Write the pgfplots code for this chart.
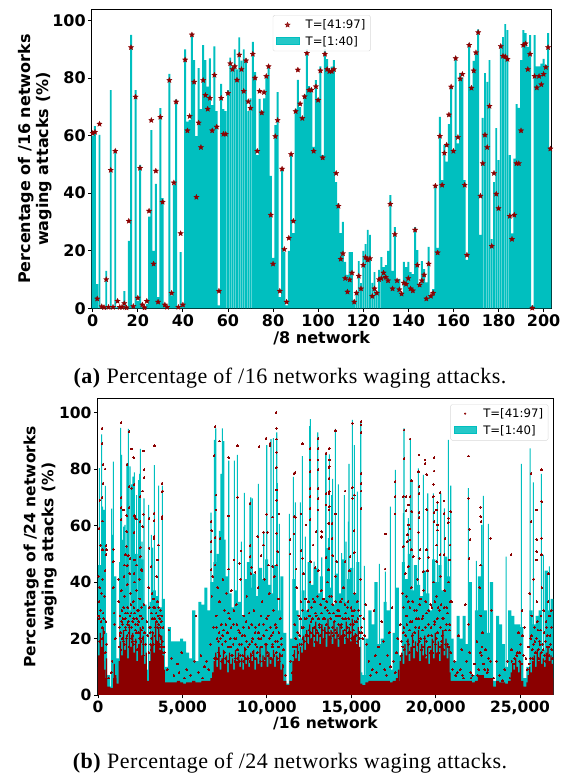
\documentclass[border=0pt]{standalone}
\usepackage{fontspec}
\usepackage{pgfplots}
\usepackage{pgfplotstable}
\pgfplotsset{compat=1.18}
\setmainfont{Liberation Serif}
\newfontfamily\djv{DejaVu Sans}
\definecolor{cbar}{HTML}{00BFBF}
\definecolor{dred}{HTML}{8B0000}
\pgfdeclareplotmark{fstar}{%
  \pgfpathmoveto{\pgfpointpolar{90}{\pgfplotmarksize}}%
  \pgfpathlineto{\pgfpointpolar{126}{0.45\pgfplotmarksize}}%
  \pgfpathlineto{\pgfpointpolar{162}{\pgfplotmarksize}}%
  \pgfpathlineto{\pgfpointpolar{198}{0.45\pgfplotmarksize}}%
  \pgfpathlineto{\pgfpointpolar{234}{\pgfplotmarksize}}%
  \pgfpathlineto{\pgfpointpolar{270}{0.45\pgfplotmarksize}}%
  \pgfpathlineto{\pgfpointpolar{306}{\pgfplotmarksize}}%
  \pgfpathlineto{\pgfpointpolar{342}{0.45\pgfplotmarksize}}%
  \pgfpathlineto{\pgfpointpolar{18}{\pgfplotmarksize}}%
  \pgfpathlineto{\pgfpointpolar{54}{0.45\pgfplotmarksize}}%
  \pgfpathclose\pgfusepathqfillstroke}
\pgfplotstableread{
i b s
0 60 60.8
1 63.3 61.2
2 8.4 3.3
3 60.2 64
4 0.5 0.6
5 0.3 0.3
6 13 10
7 0.2 0.4
8 75.8 48
9 0.2 0.4
10 54.6 54.6
11 0.5 2.5
12 0.2 0.4
13 0.2 0.4
14 6 1.7
15 0.1 0.2
16 23.4 30.3
17 95 90.6
18 0.2 0.7
19 75.8 73.4
20 2.6 3.6
21 49.8 48.7
22 0.5 1.2
23 0.2 0.2
24 1.5 2.5
25 31.8 33.8
26 61.9 65.3
27 19.9 15.4
28 43.2 47.7
29 3.9 2.2
30 69.5 66.4
31 38.3 36.9
32 0.8 1.2
33 0.3 0.4
34 81.4 79.2
35 4.5 5.3
36 42.8 43.6
37 72.6 71.7
38 0.3 0.4
39 19.5 26
40 0.8 1.2
41 89.9 86.3
42 64.8 61.7
43 65.4 66.7
44 95.5 95
45 86.2 78.6
46 59.8 38.6
47 83.4 64.4
48 69.2 55.9
49 91.4 79.2
50 86.2 74
51 77 69.2
52 86.8 73
53 70.6 61.7
54 91 81
55 68.5 63
56 1 6
57 77.9 73
58 69.2 60.5
59 68.5 60.5
60 75.8 74.7
61 87.1 85
62 84 83
63 89.9 84
64 83 79.3
65 94.1 88
66 86 83
67 89.9 75.4
68 86.8 86
69 68.5 71.8
70 72.9 69.5
71 92.5 88.3
72 82 80
73 53.2 54.6
74 72.7 75.4
75 68.5 67.9
76 72.9 75
77 80.2 80.6
78 83.7 84
79 46 32.4
80 17.5 15.4
81 63.6 59.7
82 75.1 65.3
83 3.9 6
84 48.7 48.4
85 19.7 20.5
86 1 2.2
87 19.9 24.4
88 53.2 53.5
89 26.1 30.3
90 69.3 68.4
91 79.3 82.8
92 69.9 71
93 66.5 66
94 74.2 73.5
95 89.9 88.6
96 77.2 75.8
97 76.4 75.8
98 56.1 54.6
99 79.2 77
100 72.9 72.3
101 84 82.5
102 53.2 52.3
103 89.9 88.3
104 86.5 83
105 82.3 82.3
106 83.9 82.3
107 86.2 83
108 43.8 46.9
109 36.4 35.5
110 26.1 17.1
111 30 19
112 16.1 10.4
113 11.6 5.7
114 19.5 9.9
115 19.5 12.3
116 2.9 2.2
117 5.8 5.3
118 16.4 11.2
119 8.7 6.8
120 19.9 15
121 22.3 17.7
122 27.2 16.8
123 25.5 17.3
124 8.8 4.2
125 12.6 6.8
126 5.8 5.3
127 13.3 10
128 17.8 10.4
129 14.3 12.3
130 15 10.8
131 19.9 9.6
132 39.3 36.2
133 13 6.8
134 28.2 25.7
135 10 9.6
136 10.2 6.5
137 5.2 5
138 16.1 8.8
139 14.3 8.4
140 16.1 10.4
141 12.6 6.8
142 11.9 6.1
143 28.2 27.2
144 20.2 15
145 8.4 8.1
146 16.4 9.6
147 13.6 11.6
148 9 3.3
149 21.3 15.4
150 4.5 4.2
151 6.7 5.3
152 42.5 42.5
153 21 19.3
154 66.5 59.8
155 44.5 42.8
156 56.7 53.9
157 50.9 56.7
158 64 67.2
159 77.2 76.9
160 55 54.6
161 87.4 86.8
162 57.3 59.4
163 81.8 79.7
164 80.2 81.3
165 44.5 42.8
166 16.8 18.5
167 92 91.4
168 77 76.5
169 85.9 82.5
170 89.1 88.8
171 96.9 95.8
172 25.5 39
173 66.1 50.3
174 81.7 60.2
175 78.6 55.9
176 86.2 70.2
177 24 21.6
178 43.8 46.9
179 62.6 39.7
180 51.5 34.7
181 91.5 91
182 94.2 87.6
183 98.7 87.4
184 96.6 86.5
185 53.2 32
186 26 24
187 52 32.4
188 70.9 50.3
189 69.6 50.3
190 86.2 61.7
191 96.6 91.4
192 95.6 91.9
193 90.8 83
194 94.9 88.3
195 0.9 0.1
196 94.9 80.6
197 84 76.6
198 84 80.6
199 85 77.7
200 86.6 81.3
201 84.5 83.7
202 95.6 90.6
203 55 55.4
}\topdata
\pgfplotstableread{
d base floor
90 46 10
270 40 12
450 22 6
630 7 3
810 3 2.5
990 42 6
1170 13 4
1350 47 8
1530 38 10
1710 52 9
1890 30 11
2070 43 10
2250 50 9
2430 30 6
2610 48 10
2790 32 8
2970 9 5
3150 33 9
3330 37 12
3510 35 12
3690 31 11
3870 34 9
4050 10 4.5
4230 24 4.5
4410 19 4.5
4590 19 4.5
4770 19 5
4950 20 4.5
5130 19 4
5310 15 4.5
5490 13 4.5
5670 30 5
5850 12 4.5
6030 33 4.5
6210 32 5
6390 38 5
6570 30 5
6750 40 6
6930 47 6
7110 50 7
7290 58 6
7470 55 6
7650 42 5
7830 36 7
8010 31 6
8190 37 6
8370 33 7
8550 28 6
8730 41 7
8910 47 6
9090 38 6
9270 43 7
9450 35 6
9630 45 7
9810 41 6
9990 48 6
10170 39 7
10350 36 6
10530 46 7
10710 30 6
10890 42 5
11070 22 5
11250 4 3.5
11430 20 5
11610 41 8
11790 30 8
11970 20 8
12150 37 10
12330 30 9
12510 47 12
12690 39 13
12870 45 12
13050 36 13
13230 42 11
13410 34 13
13590 46 14
13770 38 12
13950 32 13
14130 43 14
14310 36 12
14490 48 13
14670 33 14
14850 41 12
15030 45 13
15210 36 12
15390 47 11
15570 8 4
15750 7 3.5
15930 20 4.5
16110 30 5
16290 25 5
16470 40 5
16650 18 5
16830 20 5
17010 33 5
17190 30 5
17370 9 4.5
17550 22 5
17730 38 6
17910 14 5
18090 47 8
18270 41 9
18450 50 8
18630 37 9
18810 46 8
18990 39 9
19170 35 8
19350 44 9
19530 36 8
19710 30 8
19890 48 8
20070 40 9
20250 46 8
20430 37 9
20610 49 8
20790 42 8
20970 20 5
21150 12 5
21330 28 5
21510 20 5
21690 28 5
21870 18 5
22050 40 5
22230 7 4.5
22410 30 5
22590 42 7
22770 46 7
22950 30 6
23130 22 6
23310 40 6
23490 5 3
23670 28 5
23850 25 4.5
24030 18 4.5
24210 10 4
24390 30 5
24570 28 6
24750 25 6
24930 25 6
25110 24 5
25290 6 3
25470 10 4.5
25650 30 5
25830 25 6
26010 28 7
26190 30 7
26370 16 6
26550 44 7
26730 30 7
26910 34 6
}\basedata
\pgfplotstableread{
d v
45 14
135 22
225 17
315 24
405 9
500 13
960 11
1050 7
1260 12
1330 19
1420 14
1510 23
1600 16
1690 20
1780 13
1870 25
1960 17
2050 22
2140 15
2230 20
2320 12
2410 18
2500 24
2590 14
2680 21
2770 11
2860 15
3060 12
3150 18
3240 22
3330 15
3420 26
3510 19
3600 24
3690 16
3780 21
3870 14
6800 8
6890 12
6980 15
7070 10
7160 17
7250 9
7340 13
7430 16
7520 11
7610 14
7700 8
7790 15
7880 11
7970 13
8060 9
8150 16
8240 12
8330 15
8420 10
8510 13
8600 9
8690 17
8780 11
8870 14
8960 10
9050 15
9140 12
9230 16
9320 9
9410 13
9500 11
9590 17
9680 10
9770 14
9860 12
9950 18
10040 10
10130 15
10220 11
10310 13
10400 16
10490 10
10580 14
10670 12
10760 15
10850 9
10940 11
11550 12
11640 16
11730 13
11820 18
11910 12
12000 17
12090 15
12180 21
12270 16
12360 23
12450 18
12540 25
12630 20
12720 24
12810 17
12900 26
12990 19
13080 22
13170 18
13260 25
13350 20
13440 24
13530 17
13620 27
13710 21
13800 23
13890 18
13980 26
14070 20
14160 24
14250 17
14340 25
14430 21
14520 23
14610 18
14700 26
14790 20
14880 24
14970 19
15060 27
15150 21
15240 22
15330 18
15420 24
15510 17
17800 9
17900 12
18000 15
18090 11
18180 18
18270 14
18360 20
18450 12
18540 17
18630 22
18720 13
18810 19
18900 15
18990 23
19080 12
19170 18
19260 14
19350 21
19440 13
19530 17
19620 11
19710 16
19800 20
19890 13
19980 22
20070 15
20160 19
20250 12
20340 18
20430 23
20520 14
20610 20
20700 13
20790 17
24480 8
24570 11
24660 9
24750 13
24840 10
24930 8
25020 12
25480 7
25570 10
25660 8
25750 12
25840 14
25930 10
26020 16
26110 12
26200 15
26290 11
26380 13
26470 10
26560 15
26650 17
26740 12
26830 14
26920 11
}\middata
\pgfplotstableread{
d v
79 80.3
217 92.3
277 66.7
356 65.5
435 74
810 66
889 56.7
909 82.6
1343 94.6
1402 85
1462 54.9
1521 59.6
1600 60.2
1718 82
1797 94.2
1896 80.9
1995 74.6
2074 77.3
2153 78.8
2291 70.8
2410 76.1
2469 78.3
2508 87.1
2607 54.3
2726 69.6
3002 67.3
3160 56.7
3239 52.2
3338 81.4
3575 47.2
3595 74.1
3812 74.1
6695 64.6
6893 90.3
6972 94.4
7189 58.1
7288 78.3
7367 94.4
7446 89.9
7742 83
8078 83
8256 85
8493 54.3
8670 71.6
9006 68.2
9046 70
9144 69.6
9500 74.7
9816 57.9
9994 88.5
10250 90.6
10389 90.9
10586 93
10626 75
10744 60.6
11337 64.1
11574 77.2
11692 68.2
11988 68.2
12107 84.6
12285 56.1
12541 95.2
12581 97.7
12798 47.2
13015 93
13252 48.7
13509 85.6
13588 52
13706 85.2
13250 48.2
13487 85.2
13645 55.5
13704 67
13842 70.8
13902 76.5
14060 94.2
14237 74.6
14435 50.2
14593 70.8
14692 54.3
14830 61.4
14869 81.8
15067 97.4
15185 88.5
15363 72
15561 96.8
15778 45.7
16666 46.4
17022 43.7
17318 66.7
17615 79.7
18089 64.4
18128 94.4
18385 62.6
18503 90.9
18602 76.1
18740 46
18977 80.2
19273 77.9
19530 71.4
19866 71.4
20103 68.5
20301 71.4
20518 66.1
20755 90.3
20893 74.1
21940 73.2
22414 47.5
22730 60.2
22829 70.5
23125 60.6
24172 49
25080 81.8
25594 87.3
25791 75.3
26265 78.3
26384 49.6
26739 45.5
}\spikedata
\begin{document}
\begin{tikzpicture}[x=1pt,y=1pt]
\path[use as bounding box] (0,0) rectangle (570,776);
\begin{axis}[
  at={(91.7pt,467.7pt)},anchor=south west,scale only axis,
  width=460pt,height=298.3pt,
  xmin=-0.45,xmax=203.6,ymin=0,ymax=103.6,
  xtick={0,20,...,200},ytick={0,20,...,100},
  /pgf/number format/assume math mode=true,
  tick label style={font=\djv\bfseries\fontsize{16}{18}\selectfont},
  label style={font=\djv\bfseries\fontsize{16}{18}\selectfont},
  tick align=outside,tick pos=left,
  major tick length=3.5pt,
  every tick/.style={black,line width=0.8pt},
  axis line style={line width=1pt,black},
  xticklabel style={yshift=1pt},
  yticklabel style={xshift=1pt},
  xlabel={/8 network},
  ylabel={Percentage of /16 networks\\waging attacks (\%)},
  xlabel style={at={(rel axis cs:0.5,0)},anchor=center,yshift=-29.5pt},
  ylabel style={at={(rel axis cs:-0.123,0.5)},anchor=center,align=center},
  legend style={at={(0.5,0.983)},anchor=north,draw=black!15,rounded corners=1.5pt,
    fill=white,fill opacity=0.85,text opacity=1,
    font=\djv\fontsize{11.7}{13.5}\selectfont,row sep=2pt,
    inner xsep=3pt,inner ysep=2.5pt},
  legend cell align=left,
]
\addplot[ybar,bar shift=0pt,bar width=1.95pt,fill=cbar,draw=none,forget plot] table[x=i,y=b]{\topdata};
\addplot[only marks,mark=fstar,mark size=2.8pt,draw=dred,fill=dred,line width=0.25pt,forget plot] table[x=i,y=s]{\topdata};
\addlegendimage{legend image code/.code={\path[draw=dred,fill=dred,line width=0.25pt,sharp corners] (0.4cm,0cm) plot[mark=fstar,mark size=2.8pt] coordinates {(0.4cm,0cm)};}}
\addlegendentry{\hspace*{4.5pt}T=[41:97]}
\addlegendimage{legend image code/.code={\fill[cbar,sharp corners] (0cm,-0.1cm) rectangle (0.8cm,0.14cm);}}
\addlegendentry{\hspace*{4.5pt}T=[1:40]}
\end{axis}
\begin{axis}[
  at={(97.5pt,81pt)},anchor=south west,scale only axis,
  width=455.8pt,height=296.3pt,
  xmin=-30,xmax=26970,ymin=0,ymax=104.9,
  xtick={0,5000,...,25000},ytick={0,20,...,100},
  scaled x ticks=false,
  /pgf/number format/1000 sep={,},
  /pgf/number format/assume math mode=true,
  tick label style={font=\djv\bfseries\fontsize{15.5}{18}\selectfont},
  label style={font=\djv\bfseries\fontsize{15.5}{18}\selectfont},
  tick align=outside,tick pos=left,
  major tick length=3.5pt,
  every tick/.style={black,line width=0.8pt},
  axis line style={line width=1pt,black},
  xticklabel style={yshift=1pt},
  yticklabel style={xshift=1pt},
  xlabel={/16 network},
  ylabel={Percentage of /24 networks\\waging attacks (\%)},
  xlabel style={at={(rel axis cs:0.5,0)},anchor=center,yshift=-28.5pt},
  ylabel style={at={(rel axis cs:-0.126,0.5)},anchor=center,align=center},
  legend style={at={(0.989,0.981)},anchor=north east,draw=black!15,rounded corners=1.5pt,
    fill=white,fill opacity=0.85,text opacity=1,
    font=\djv\fontsize{11.7}{13.5}\selectfont,row sep=2pt,
    inner xsep=3pt,inner ysep=2.5pt},
  legend cell align=left,
]
\addplot[ybar,bar shift=0pt,bar width=3.1pt,fill=cbar,draw=none,forget plot] table[x=d,y=base]{\basedata};
\addplot[ybar,bar shift=0pt,bar width=1.1pt,fill=cbar,draw=none,forget plot] table[x=d,y=v]{\spikedata};
\addplot[ybar,bar shift=0pt,bar width=3.1pt,fill=dred,draw=none,forget plot] table[x=d,y=floor]{\basedata};
\addplot[ybar,bar shift=0pt,bar width=1.3pt,fill=dred,draw=none,forget plot] table[x=d,y=v]{\middata};
\addplot[only marks,color=dred,mark=*,mark size=0.9pt,mark options={draw=dred,fill=dred,line width=0pt},forget plot] coordinates {
(237,94.4)(237,89.1)(296,81.7)(415,80)(296,75)(118,69)(237,69.9)(59,59)(257,61.6)(158,53)(474,52.9)(276,51.4)(513,51.4)(474,49.8)(908,51.6)(908,47.2)(1363,96.4)(1363,69.9)(1363,66.3)(1363,62)(1520,65.5)(1837,93.2)(1718,81.7)(1995,87.1)(2113,84)(2706,86.4)(2725,79.7)(2725,77)(3338,88.2)(2647,72.2)(2488,70.2)(3792,75)(3792,72)(3831,72.2)(3318,64.3)(3022,62.6)(3318,61.7)(3792,63.2)(3792,62.6)(3575,53.1)(3318,56.1)(3318,55.3)(3022,52)(3516,47.8)(3140,45.5)(2153,63.5)(1837,66.3)(2192,62.8)(2291,62.3)(1995,73.2)(2133,74.4)(1837,73.8)(2488,61.4)(2686,64)(2647,59.6)(1698,63.5)(1698,57.9)(2133,57.6)(1639,49.6)(1797,49.3)(2508,52.2)(1698,52.6)(1896,48.4)(2291,46)(1738,45.8)(1560,46)(2508,49)(2153,47.8)(2587,44.3)(2133,43.1)
(6932,95)(6873,84.7)(6992,70.8)(7189,89.9)(6992,65.5)(6695,61.4)(6735,58.2)(6932,55.8)(7229,55.5)(6695,54.3)(6695,50.8)(6932,46)(6695,44.3)(7742,84)(7742,63.4)(7742,44.6)(8256,88.2)(8058,47.8)(8374,46.6)(8275,70)(8473,51)(9006,67.9)(9006,52.9)(9006,49)(9085,45.2)(9539,87.9)(9460,56.1)(9302,43.5)(9658,49.4)(9796,57.6)(9796,53.1)(9954,90.9)(10053,57.6)(9994,64)(10092,46)(10191,89.1)(10191,88.3)(10349,63)(10349,45.5)(10546,100)(10566,94.4)(10566,90.6)(10586,85.9)(10566,80.5)(10586,72.6)(10586,69)(10586,57.3)(10724,64.1)(10645,50.8)(10586,46)(11376,55.1)(11376,49.9)(11613,78.5)(11672,78.8)(11613,63.2)(11712,62.9)(11613,57)(11731,44.6)(12028,64.1)(12028,51.1)(12127,88.9)(12127,48.4)(12324,60.2)(12166,42.9)(12561,87.3)(12561,83.2)(12561,79.1)(12561,73.2)(12561,70.2)(12561,66.1)(12561,62)(12600,47.2)(12739,53.1)(12857,45.1)(12916,57.8)(13035,90.9)(13035,87.3)(13035,83.2)(13035,79.7)(13035,73.2)(13035,69.6)(13035,65.5)(13253,57.8)(13253,56.1)(13509,85.6)(13509,67.3)(13706,87.3)(13706,83.2)(13706,80.9)(13706,72)(13706,66.7)(13647,60.8)(13647,44.3)
(13250,57.9)(13250,55.8)(13506,85.6)(13684,87.3)(13684,83.2)(13684,80.5)(13684,76.7)(13506,71.2)(13684,71.2)(13506,67.3)(13684,65.5)(13684,60.8)(13862,60.8)(13862,55.5)(13684,52)(13506,48.8)(13901,49.4)(14139,47.2)(14079,93.5)(14079,64.1)(14632,72.2)(14632,47.2)(15067,96.2)(15067,73.4)(15067,69.6)(15185,70.8)(15165,58.1)(15185,50.4)(14929,49)(15580,96.8)(15580,95.6)(15580,93)(15580,78.5)(15580,75)(15580,72.2)(15580,66.1)(17042,57)(17002,44.6)(18128,93.8)(18484,90.6)(18128,83.6)(17595,75.5)(17595,70.2)(17595,64.1)(18582,75.8)(19017,85)(19372,83.2)(19372,82)(19471,78.1)(19906,84)(19906,79.3)(19017,73.8)(18977,79)(18088,70.2)(18246,70.2)(18484,70.2)(19017,71.4)(18385,67.3)(18246,65.2)(18582,65)(19017,64.7)(19017,62.9)(19471,65.7)(19866,74.6)(19866,70.2)(20103,68.2)(20261,71.6)(20498,68.7)(20063,65.5)(19906,64.7)(20498,64.3)(20755,62.6)(20893,64.9)(19906,61.4)(20103,60.2)(20755,61)(20103,58.4)(18385,60.2)(18484,58.8)(18977,57.6)(18326,56.7)(18484,54.9)(18088,52.5)(18326,54.3)(18582,51.4)(19076,51.4)(19471,51.4)(20063,53.1)(20557,55.5)(20853,53.1)(18681,49)(19037,48.4)(19570,48.7)(20261,49.6)(20498,49.6)(20814,47.8)(18385,45.5)(20063,47.2)(19274,43.7)(21940,84.6)(21940,69.6)(22000,58.7)(22038,55.1)(22670,66.5)(22670,63.2)(22690,61.4)(23263,55.5)(24468,49.6)(25653,78.5)(26285,79.7)(26285,68.5)(25989,65.5)(25653,61.4)(26285,55.5)(25989,55.1)(25989,50.8)(26285,49.6)(26680,42.9)(25989,47.8)(21979,48.4)(22670,46)
(40,42)(60,33)(80,27)(110,38)(150,30)(200,36)(240,24)(270,41)(300,29)(360,22)(380,35)(420,44)(470,26)(520,18)(900,38)(950,29)(980,25)(1020,20)(1200,41)(1230,33)(1300,28)(1330,22)(1380,37)(1420,30)(1460,25)(1500,19)(1540,42)(1570,35)(1610,27)(1650,23)(1690,20)(1730,39)(1770,31)(1800,26)(1840,22)(1880,43)(1920,36)(1960,29)(2000,24)(2040,21)(2080,33)(2120,27)(2160,40)(2200,23)(2240,19)(2280,37)(2320,30)(2360,25)(2400,22)(2440,41)(2480,34)(2520,28)(2560,23)(2600,44)(2640,20)(2680,18)(2720,32)(2900,26)(2950,21)(3000,38)(3050,24)(3100,18)(3150,29)(3200,36)(3250,22)(3300,31)(3350,27)(3400,24)(3450,19)(3480,42)(3520,33)(3560,28)(3600,25)(3650,21)(3700,30)(3750,26)(3800,19)(3850,24)(3880,17)(3920,15)(780,8)(830,12)(640,6)
(4100,9)(4200,23)(4350,13)(4500,7)(4700,11)(4800,8)(4950,15)(5100,6)(5250,9)(5500,7)(5700,12)(5800,28)(5950,8)(6100,14)(6200,6)(6300,10)(6450,12)(6550,9)(6650,18)(6750,35)(6800,42)(6850,24)(6900,13)
(7000,28)(7050,20)(7100,38)(7150,15)(7200,33)(7300,25)(7350,18)(7400,41)(7480,30)(7550,13)(7600,36)(7680,22)(7750,12)(7800,27)(7850,17)(7900,37)(7970,14)(8020,25)(8080,20)(8150,13)(8200,32)(8260,16)(8320,23)(8400,12)(8460,41)(8520,18)(8580,14)(8640,28)(8700,21)(8760,13)(8820,35)(8880,17)(8940,24)(9000,12)(9060,43)(9120,19)(9180,15)(9240,30)(9300,22)(9360,13)(9420,17)(9480,38)(9540,25)(9600,14)(9660,20)(9720,33)(9780,12)(9840,41)(9900,18)(9960,23)(10020,15)(10080,28)(10140,36)(10200,13)(10260,21)(10320,17)(10380,30)(10440,42)(10500,25)(10560,15)(10620,19)(10680,34)(10740,12)(10800,27)(10850,20)(10900,14)(10960,10)(11000,16)(11100,7)
(11420,12)(11500,8)(11600,17)(11660,25)(11720,20)(11780,38)(11840,22)(11900,28)(11960,18)(12020,33)(12080,24)(12140,20)(12200,43)(12260,27)(12320,21)(12380,18)(12440,30)(12500,23)(12560,40)(12620,26)(12680,20)(12740,34)(12800,24)(12860,19)(12920,28)(12980,22)(13040,44)(13100,25)(13160,21)(13220,37)(13280,23)(13340,27)(13400,20)(13460,31)(13520,25)(13580,40)(13640,22)(13700,29)(13760,20)(13820,35)(13880,24)(13940,21)(14000,26)(14060,42)(14120,22)(14180,30)(14240,25)(14300,20)(14360,33)(14420,24)(14480,21)(14540,38)(14600,23)(14660,27)(14720,20)(14780,31)(14840,22)(14900,44)(14960,25)(15020,20)(15080,28)(15140,23)(15200,36)(15260,21)(15320,26)(15380,19)(15440,30)(15500,22)(15560,41)(15620,24)(15680,20)(15740,27)(15800,21)(15860,32)(15920,18)
(16050,12)(16150,7)(16250,9)(16350,30)(16420,14)(16500,8)(16600,17)(16700,11)(16800,26)(16900,19)(16980,9)(17080,7)(17150,14)(17250,22)(17320,10)(17420,31)(17500,12)(17600,8)(17680,15)(17750,20)
(17900,25)(17960,14)(18020,36)(18080,22)(18140,16)(18200,43)(18260,28)(18320,19)(18380,33)(18440,15)(18500,26)(18560,38)(18620,21)(18680,17)(18740,30)(18800,24)(18860,15)(18920,41)(18980,27)(19040,19)(19100,34)(19160,16)(19220,23)(19280,37)(19340,20)(19400,14)(19460,29)(19520,44)(19580,25)(19640,17)(19700,32)(19760,21)(19820,15)(19880,40)(19940,26)(20000,18)(20060,35)(20120,22)(20180,15)(20240,30)(20300,42)(20360,19)(20420,27)(20480,16)(20540,37)(20600,23)(20660,31)(20720,18)(20780,40)(20840,25)(20900,15)(20960,33)
(21100,12)(21200,7)(21350,21)(21450,9)(21550,16)(21650,6)(21750,32)(21850,12)(21950,25)(22020,15)(22080,8)(22180,7)(22300,11)(22450,19)(22550,9)(22620,38)(22680,28)(22720,14)(22780,22)(22840,11)(22950,16)(23050,8)(23150,13)(23300,30)(23450,6)(23600,12)(23800,7)(23950,5)
(24100,9)(24250,12)(24400,6)(24500,16)(24620,11)(24700,7)(24800,14)(24900,22)(24980,12)(25050,18)(25120,30)(25200,14)(25280,24)(25350,13)(25430,9)(25500,17)(25580,36)(25640,20)(25700,28)(25760,13)(25820,41)(25880,19)(25940,15)(26000,33)(26060,23)(26120,13)(26180,18)(26240,28)(26300,38)(26360,16)(26420,22)(26480,12)(26540,26)(26600,17)(26660,33)(26720,14)(26780,21)(26840,30)(26900,13)
(30,28)(100,19)(180,26)(260,20)(340,27)(430,15)(1240,17)(1280,24)(1360,16)(1440,20)(1480,27)(1560,18)(1640,29)(1720,21)(1760,25)(1830,17)(1900,28)(1990,20)(2060,26)(2110,18)(2180,29)(2270,22)(2340,16)(2420,26)(2470,15)(2550,19)(2620,27)(2700,14)(2740,22)(2830,18)(3020,15)(3090,22)(3170,16)(3220,27)(3280,18)(3380,21)(3440,29)(3530,24)(3620,18)(3660,27)(3730,20)(3810,15)
(7040,13)(7130,19)(7220,14)(7310,12)(7390,21)(7470,15)(7560,19)(7640,12)(7720,17)(7830,20)(7920,14)(8000,18)(8110,12)(8180,20)(8280,13)(8360,18)(8440,14)(8540,21)(8620,12)(8720,16)(8800,19)(8900,13)(8990,18)(9080,14)(9170,20)(9260,13)(9350,18)(9440,15)(9530,20)(9620,12)(9700,17)(9810,21)(9890,13)(9980,18)(10070,14)(10160,20)(10250,13)(10340,18)(10430,14)(10520,19)(10610,13)(10700,17)(10790,14)(10880,18)
(11580,14)(11700,17)(11850,15)(11950,21)(12060,18)(12150,24)(12240,19)(12340,27)(12420,21)(12520,28)(12600,22)(12700,27)(12790,21)(12880,29)(12960,23)(13060,27)(13140,24)(13240,29)(13320,23)(13420,27)(13500,22)(13600,30)(13680,24)(13780,27)(13860,22)(13960,29)(14040,23)(14140,28)(14220,21)(14320,28)(14400,25)(14500,27)(14580,21)(14680,29)(14760,24)(14860,27)(14940,22)(15040,30)(15120,25)(15220,26)(15300,21)(15400,27)(15480,20)(15600,22)
(17980,19)(18060,17)(18120,24)(18220,21)(18300,25)(18410,18)(18470,23)(18600,26)(18660,19)(18770,22)(18840,27)(18950,18)(19020,24)(19120,20)(19200,27)(19300,17)(19380,24)(19470,19)(19560,21)(19670,15)(19730,24)(19840,19)(19920,25)(20030,20)(20100,27)(20210,17)(20290,24)(20390,21)(20450,27)(20570,18)(20640,25)(20740,17)(20820,23)
(21000,9)(21280,8)(21580,7)(22100,6)(22500,7)(22640,15)(22750,17)(22800,11)(22900,9)(23100,9)(23250,12)(24520,12)(24680,13)(24850,15)(24990,15)(25100,11)(25540,11)(25620,13)(25720,16)(25800,18)(25900,15)(25980,20)(26080,16)(26150,19)(26260,15)(26340,18)(26440,14)(26520,19)(26620,21)(26700,17)(26800,18)(26880,16)
(1300,21)(1410,26)(1520,31)(1620,24)(1750,29)(1850,24)(1950,32)(2020,19)(2130,31)(2210,25)(2300,27)(2390,30)(2460,20)(2570,31)(2660,24)(3040,31)(3130,24)(3190,20)(3290,34)(3370,31)(3470,26)(3580,31)(3640,17)(3710,24)(3780,28)
(7020,24)(7170,22)(7260,20)(7450,23)(7580,25)(7730,29)(7880,24)(8050,30)(8230,25)(8400,22)(8600,24)(8770,26)(8950,29)(9110,25)(9320,24)(9500,22)(9650,28)(9800,25)(10000,27)(10200,24)(10370,22)(10550,24)(10720,22)
(11990,27)(12120,30)(12300,34)(12470,33)(12650,31)(12830,33)(13000,35)(13190,32)(13370,34)(13550,33)(13730,35)(13910,32)(14090,33)(14270,30)(14450,34)(14630,32)(14810,33)(14990,31)(15170,30)(15350,33)(15530,28)
(18100,31)(18280,35)(18480,31)(18650,33)(18880,30)(19060,32)(19250,28)(19420,33)(19600,30)(19780,31)(19960,33)(20140,31)(20320,32)(20510,31)(20700,29)(20870,33)
(25150,21)(25680,21)(25860,24)(26030,26)(26210,23)(26410,30)(26570,24)(26750,28)(26870,24)
};
\addlegendimage{legend image code/.code={\fill[dred,sharp corners] (0.4cm,0.02cm) circle (0.85pt);}}
\addlegendentry{\hspace*{4.5pt}T=[41:97]}
\addlegendimage{legend image code/.code={\fill[cbar,sharp corners] (0cm,-0.1cm) rectangle (0.8cm,0.14cm);}}
\addlegendentry{\hspace*{4.5pt}T=[1:40]}
\end{axis}
\node[anchor=center,font=\fontsize{22}{24}\selectfont\addfontfeature{LetterSpace=2.2}] at (290pt,398pt) {\textbf{(a)} Percentage of /16 networks waging attacks.};
\node[anchor=center,font=\fontsize{22}{24}\selectfont\addfontfeature{LetterSpace=2.2}] at (290pt,13pt) {\textbf{(b)} Percentage of /24 networks waging attacks.};
\end{tikzpicture}
\end{document}
